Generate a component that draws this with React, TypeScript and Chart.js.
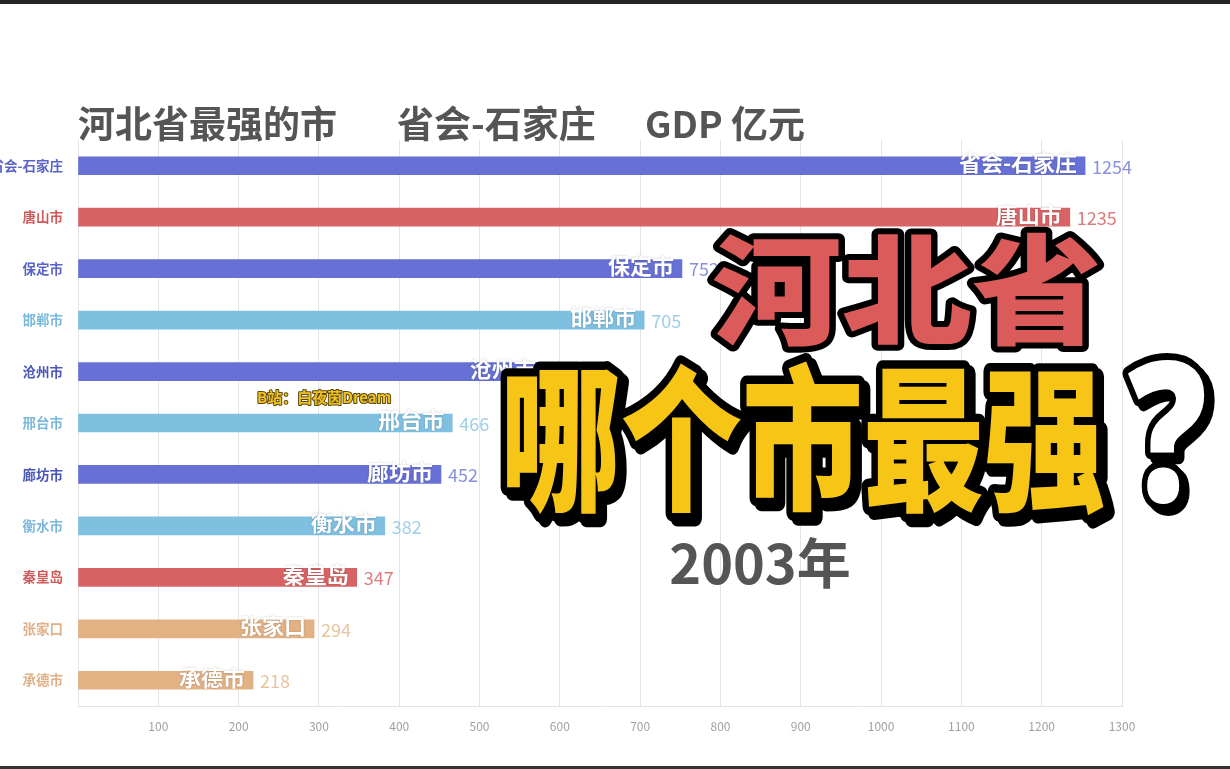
import React, { useEffect, useRef } from "react";
import { Chart, registerables } from "chart.js";

Chart.register(...registerables);

const categories = ["省会-石家庄", "唐山市", "保定市", "邯郸市", "沧州市", "邢台市", "廊坊市", "衡水市", "秦皇岛", "张家口", "承德市"];
const gdpValues = [1254, 1235, 752, 705, 580, 466, 452, 382, 347, 294, 218];
const barColors = ["#6670d5", "#d96364", "#6670d5", "#7fbfe0", "#6670d5", "#7fbfe0", "#6670d5", "#7fbfe0", "#d96364", "#e2b184", "#e2b184"];
const valueColors = ["#8890dc", "#dd7b7b", "#8890dc", "#9fcfe8", "#8890dc", "#9fcfe8", "#8890dc", "#9fcfe8", "#dd7b7b", "#e8c49f", "#e8c49f"];
const axisLabelColors = ["#5a64c8", "#d05a5a", "#5a64c8", "#7ab8dc", "#4c56b8", "#7ab8dc", "#4c56b8", "#7ab8dc", "#d05a5a", "#e0b088", "#e0b088"];
const titleParts = ["河北省最强的市", "省会-石家庄", "GDP 亿元"];
const yearLabel = "2003年";
const watermark = "B站：白夜茵Dream";
const bigLine1 = "河北省";
const bigLine2 = "哪个市最强";
const bigMark = "?";
const xMin = 0;
const xMax = 1300;
const xStep = 100;

const FONT = "'Noto Sans CJK SC', 'Noto Sans', sans-serif";

function drawBig(ctx: CanvasRenderingContext2D, text: string, x: number, y: number, font: string, sx: number, sy: number, fill: string, strokeW: number, shadow: number) {
  ctx.save();
  ctx.translate(x, y);
  ctx.scale(sx, sy);
  ctx.font = font;
  ctx.textAlign = "left";
  ctx.textBaseline = "middle";
  ctx.lineJoin = "round";
  if (shadow) {
    ctx.strokeStyle = "#000";
    ctx.lineWidth = strokeW;
    ctx.fillStyle = "#000";
    ctx.strokeText(text, shadow / sx, shadow / sy);
    ctx.fillText(text, shadow / sx, shadow / sy);
  }
  ctx.strokeStyle = "#000";
  ctx.lineWidth = strokeW;
  ctx.strokeText(text, 0, 0);
  ctx.fillStyle = fill;
  ctx.fillText(text, 0, 0);
  ctx.restore();
}

const overlayPlugin = {
  id: "overlay",
  beforeDraw(chart: any) {
    const ctx = chart.ctx as CanvasRenderingContext2D;
    ctx.save();
    ctx.fillStyle = "#ffffff";
    ctx.fillRect(0, 0, chart.width, chart.height);
    ctx.fillStyle = "#242424";
    ctx.fillRect(0, 0, chart.width, 4);
    ctx.fillStyle = "#333333";
    ctx.fillRect(0, chart.height - 3, chart.width, 3);
    ctx.restore();
  },
  afterDatasetsDraw(chart: any) {
    const ctx = chart.ctx as CanvasRenderingContext2D;
    const meta = chart.getDatasetMeta(0);
    ctx.save();
    meta.data.forEach((bar: any, i: number) => {
      const xEnd = bar.x;
      const yc = bar.y;
      ctx.font = `bold 22px ${FONT}`;
      ctx.textAlign = "right";
      ctx.textBaseline = "middle";
      ctx.shadowColor = "rgba(0,0,0,0.25)";
      ctx.shadowBlur = 2;
      ctx.fillStyle = "#ffffff";
      ctx.fillText(categories[i], xEnd - 8, yc - 3);
      ctx.shadowBlur = 0;
      ctx.shadowColor = "transparent";
      ctx.font = `18px ${FONT}`;
      ctx.textAlign = "left";
      ctx.fillStyle = valueColors[i];
      ctx.fillText(String(gdpValues[i]), xEnd + 7, yc + 1);
    });
    ctx.restore();
  },
  afterDraw(chart: any) {
    const ctx = chart.ctx as CanvasRenderingContext2D;
    ctx.save();
    ctx.fillStyle = "#555555";
    ctx.font = `bold 37px ${FONT}`;
    ctx.textBaseline = "middle";
    ctx.textAlign = "left";
    ctx.fillText(titleParts[0], 78, 124);
    ctx.fillText(titleParts[1], 397, 124);
    ctx.fillText(titleParts[2], 645, 124);

    ctx.font = `bold 54px ${FONT}`;
    ctx.textAlign = "center";
    ctx.fillText(yearLabel, 760, 563);

    ctx.font = `bold 15px ${FONT}`;
    ctx.textAlign = "left";
    ctx.lineJoin = "round";
    ctx.strokeStyle = "#5a4a10";
    ctx.lineWidth = 2;
    ctx.strokeText(watermark, 257, 397);
    ctx.fillStyle = "#f0c020";
    ctx.fillText(watermark, 257, 397);
    ctx.restore();

    drawBig(ctx, bigLine1, 712, 290, `900 130px ${FONT}`, 1, 0.92, "#db5a5a", 13, 0);
    drawBig(ctx, bigLine2, 500, 438, `900 121px ${FONT}`, 1, 1.3, "#f6c516", 13, 5);
    drawBig(ctx, bigMark, 1128, 446, `900 170px 'Noto Sans', sans-serif`, 0.92, 1.15, "#ffffff", 12, 5);
  },
};

export default function App() {
  const canvasRef = useRef<HTMLCanvasElement | null>(null);

  useEffect(() => {
    if (!canvasRef.current) return;
    const chart = new Chart(canvasRef.current, {
      type: "bar",
      data: {
        labels: categories,
        datasets: [
          {
            data: gdpValues,
            backgroundColor: barColors,
            borderWidth: 0,
            barThickness: 18,
          },
        ],
      },
      options: {
        indexAxis: "y",
        responsive: false,
        animation: false,
        events: [],
        layout: { padding: { top: 140, right: 108, bottom: 0, left: 0 } },
        plugins: { legend: { display: false }, tooltip: { enabled: false }, title: { display: false } },
        scales: {
          x: {
            min: xMin,
            max: xMax,
            afterFit(scale: any) {
              scale.height = 63;
            },
            ticks: {
              stepSize: xStep,
              padding: 13,
              color: "#a0a0a0",
              font: { family: FONT, size: 12 },
              callback: (v: any) => (Number(v) === 0 ? "" : String(v)),
            },
            grid: { color: "#e4e4e4", drawTicks: false, lineWidth: 1 },
            border: { display: true, color: "#e4e4e4" },
          },
          y: {
            afterFit(scale: any) {
              scale.width = 78;
            },
            ticks: {
              padding: 15,
              color: (c: any) => axisLabelColors[c.index],
              font: { family: FONT, size: 13.5, weight: "bold" },
            },
            grid: { display: false, drawTicks: false },
            border: { display: false },
          },
        },
      },
      plugins: [overlayPlugin],
    });
    return () => chart.destroy();
  }, []);

  return (
    <div style={{ position: "absolute", left: 0, top: 0, width: 1230, height: 769, background: "#fff" }}>
      <canvas ref={canvasRef} width={1230} height={769} style={{ display: "block" }} />
    </div>
  );
}
